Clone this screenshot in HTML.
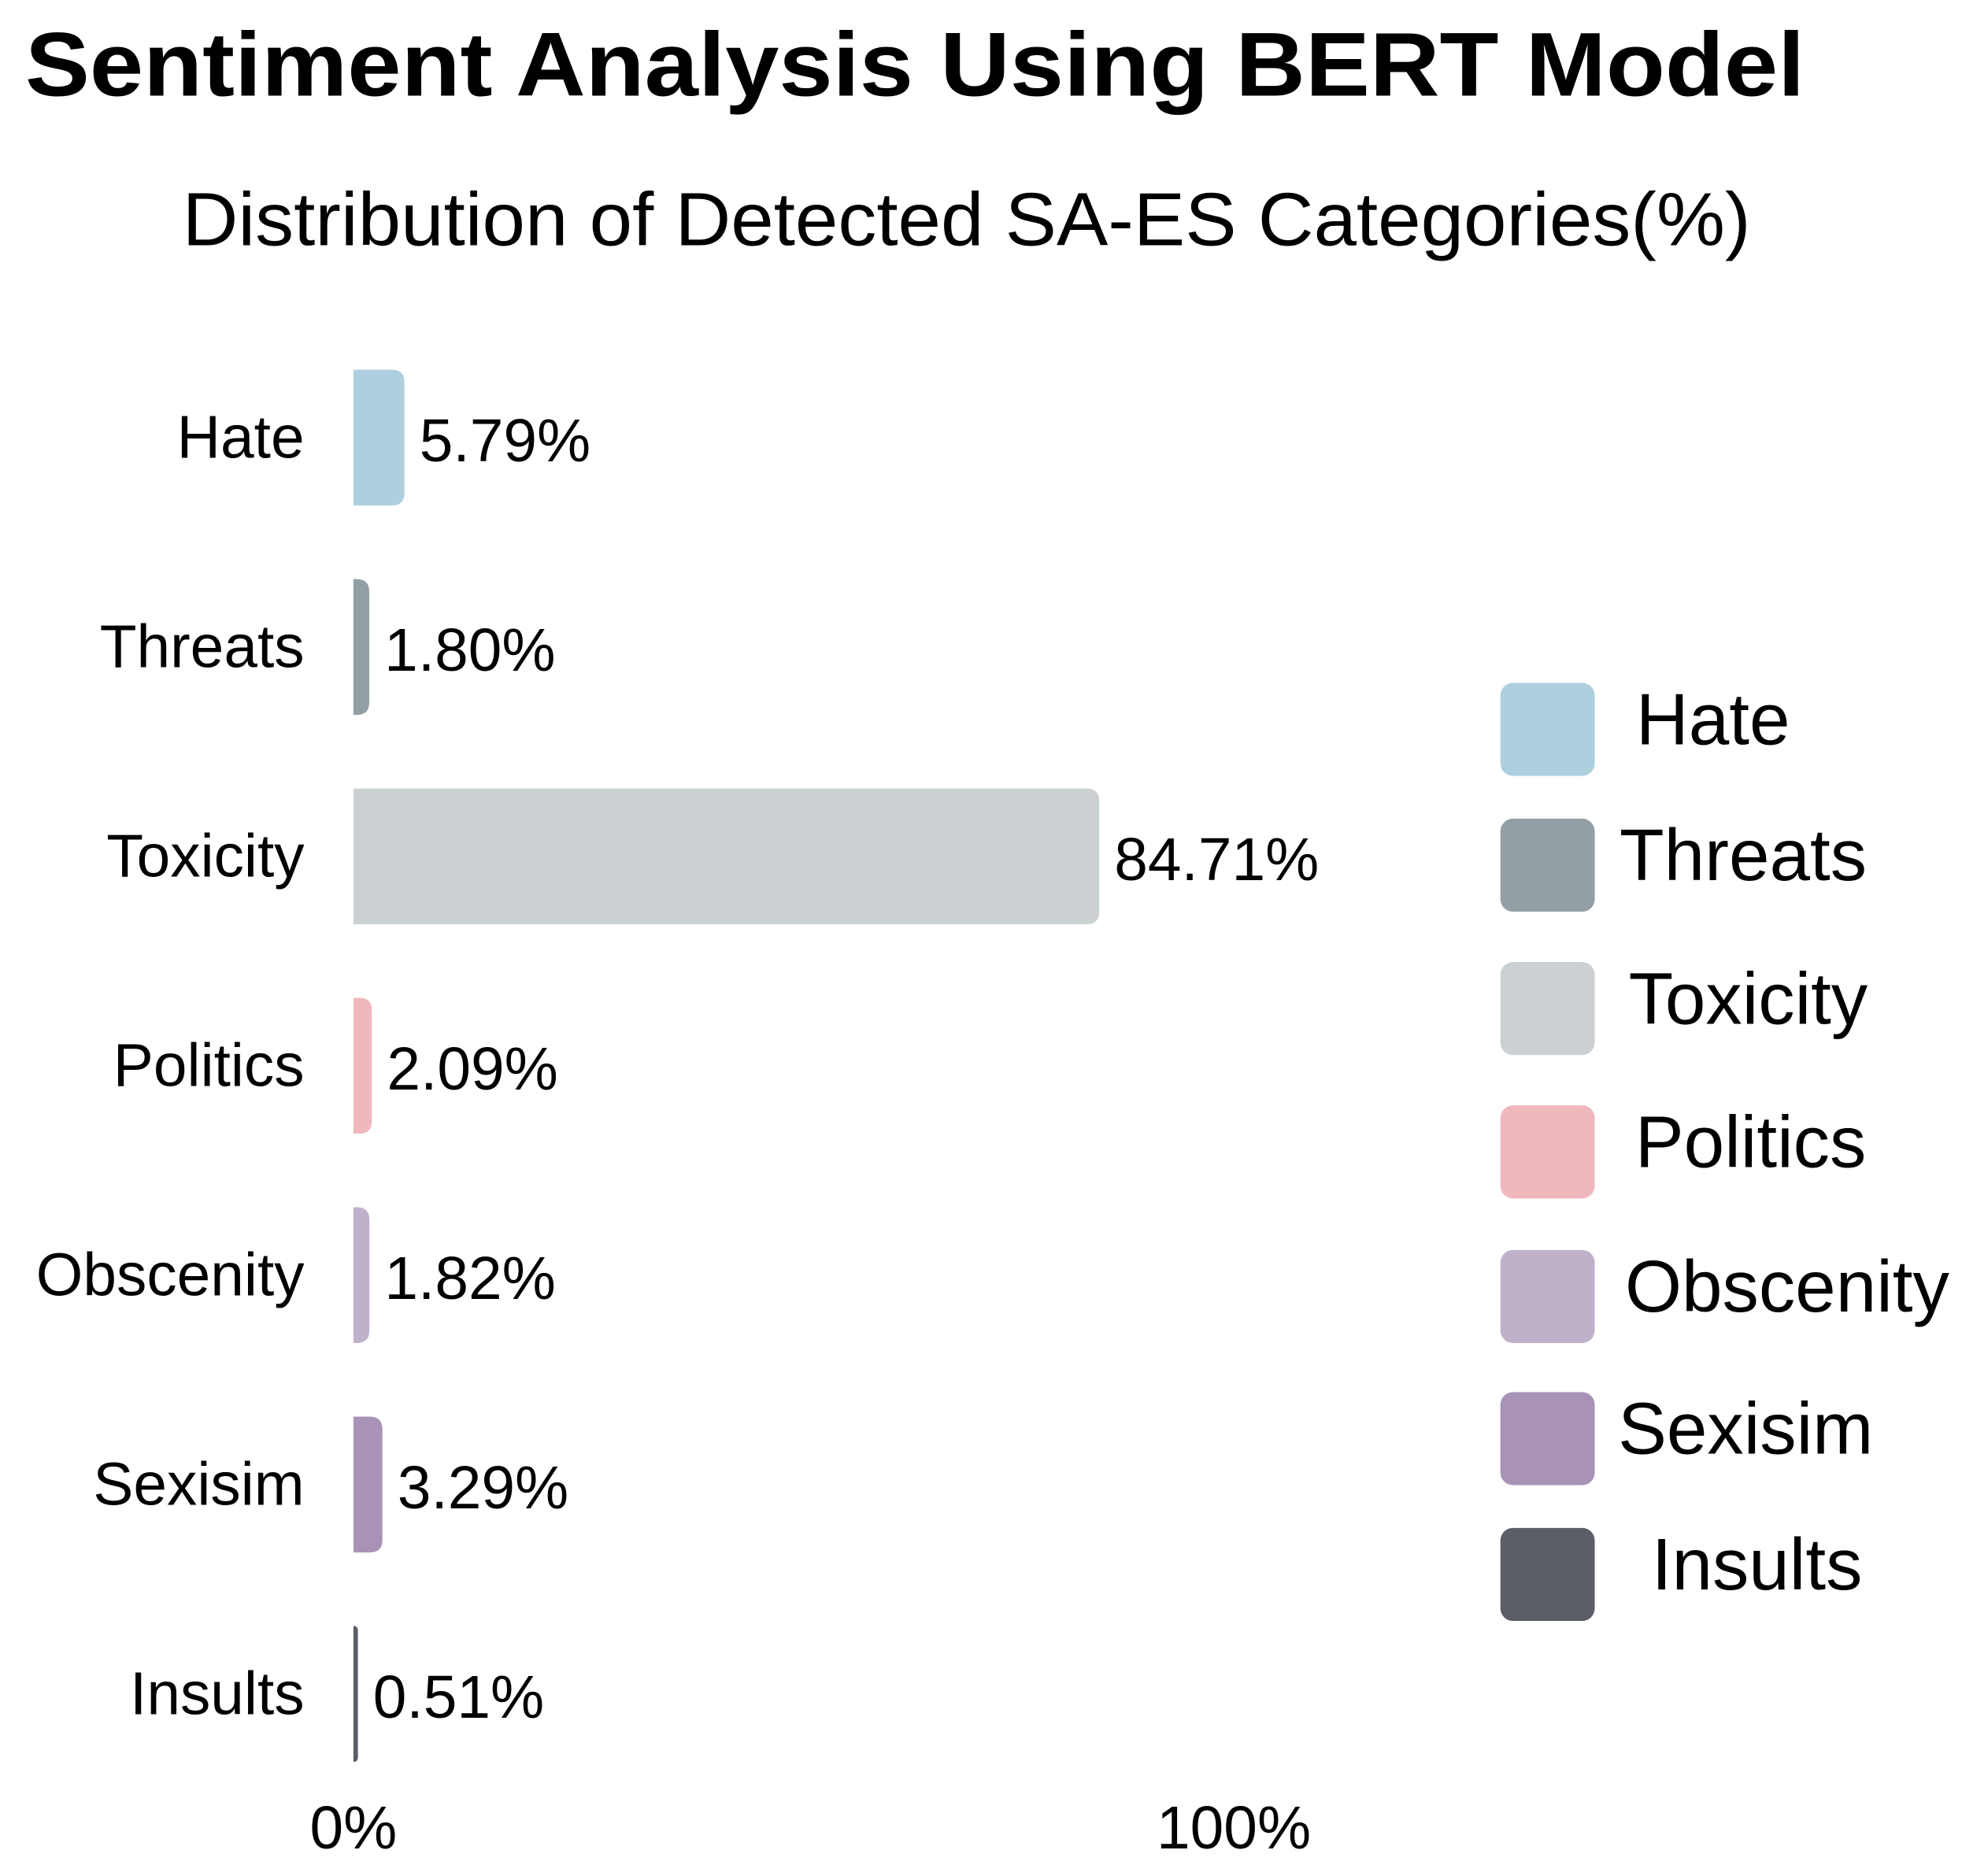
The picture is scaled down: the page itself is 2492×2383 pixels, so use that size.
<!DOCTYPE html>
<html><head><meta charset="utf-8"><style>html,body{margin:0;padding:0;background:#fff}svg{display:block}</style></head>
<body>
<svg id="chart" width="2492" height="2383" viewBox="0 0 1560 1491.8" xmlns="http://www.w3.org/2000/svg" font-family="Liberation Sans, Arial, sans-serif">
<text x="20" y="76" font-size="72" font-weight="bold" textLength="1415" lengthAdjust="spacingAndGlyphs">Sentiment Analysis Using BERT Model</text>
<text x="145" y="195" font-size="60" textLength="1247" lengthAdjust="spacingAndGlyphs">Distribution of Detected SA-ES Categories(%)</text>
<g id="bars"></g>
<g id="legend"></g>
<text x="281" y="1470" font-size="48" text-anchor="middle">0%</text>
<text x="981" y="1470" font-size="48" text-anchor="middle">100%</text>
</svg>
<script>
const categories = ["Hate","Threats","Toxicity","Politics","Obscenity","Sexisim","Insults"];
const values = [5.79,1.80,84.71,2.09,1.82,3.29,0.51];
const colors = ["#aecfdd","#929fa5","#cbd0d3","#efb8bd","#c0b1cb","#a893b6","#5b5e66"];
const NS="http://www.w3.org/2000/svg";
const x0=281, pxPer=7.0;
const xScale=v=>x0+v*pxPer;
const yScale=i=>348+i*166.5;
const bh=108;
const bars=document.getElementById('bars');
function barPath(x1,y,w,h){
  const r=Math.min(10,w);
  return `M${x1},${y} H${x1+w-r} Q${x1+w},${y} ${x1+w},${y+r} V${y+h-r} Q${x1+w},${y+h} ${x1+w-r},${y+h} H${x1} Z`;
}
categories.forEach((c,i)=>{
  const cy=yScale(i), w=xScale(values[i])-x0;
  const p=document.createElementNS(NS,'path');
  p.setAttribute('d',barPath(x0,cy-bh/2,Math.max(w,1.5),bh));
  p.setAttribute('fill',colors[i]);
  
  
  bars.appendChild(p);
  const t=document.createElementNS(NS,'text');
  t.setAttribute('x',242);t.setAttribute('y',cy+16);t.setAttribute('font-size','48');t.setAttribute('text-anchor','end');
  t.textContent=c;
  
  
  bars.appendChild(t);
  const v=document.createElementNS(NS,'text');
  v.setAttribute('x',xScale(values[i])+12);v.setAttribute('y',cy+19);v.setAttribute('font-size','48');
  v.textContent=values[i].toFixed(2)+'%';
  
  
  bars.appendChild(v);
});
const legendY=[580,688,802,916,1031,1144,1252];
const legendTX=[1362,1386,1390,1392,1421,1388,1397];
const lg=document.getElementById('legend');
categories.forEach((c,i)=>{
  const r=document.createElementNS(NS,'rect');
  r.setAttribute('x',1193);r.setAttribute('y',legendY[i]-37);r.setAttribute('width',75);r.setAttribute('height',74);r.setAttribute('rx',10);
  r.setAttribute('fill',colors[i]);
  
  
  lg.appendChild(r);
  const t=document.createElementNS(NS,'text');
  t.setAttribute('x',legendTX[i]);t.setAttribute('y',legendY[i]+12);t.setAttribute('font-size','58');t.setAttribute('text-anchor','middle');
  t.textContent=c;
  
  
  lg.appendChild(t);
});
</script>
</body></html>
